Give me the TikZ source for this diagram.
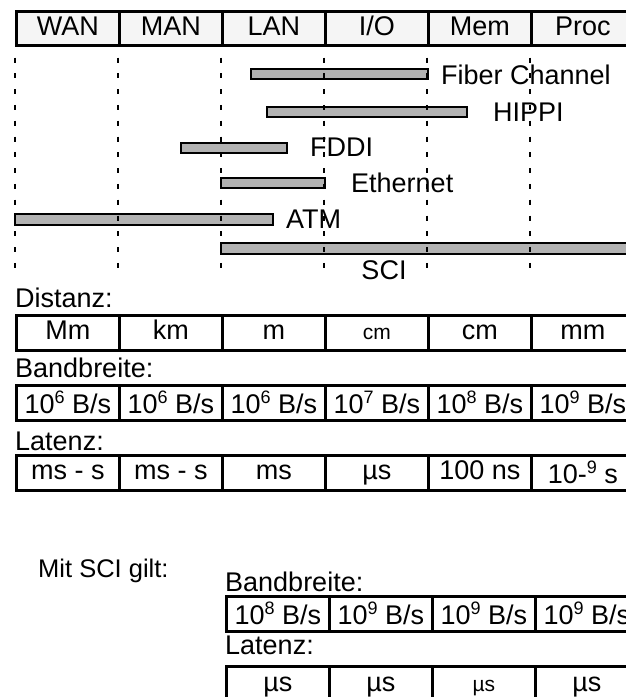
\documentclass[tikz,border=0pt]{standalone}
\usepackage{fontspec}
\setmainfont{Liberation Sans}
\newcommand{\bigsize}{\fontsize{27}{31}\selectfont}
\newcommand{\smallsize}{\fontsize{21}{24}\selectfont}
\newcommand{\tenpow}[1]{10\raisebox{10pt}{\fontsize{18}{20}\selectfont #1}}
\begin{document}
\begin{tikzpicture}[
  x=1pt, y=-1pt,
  every node/.style={font=\bigsize, inner sep=0pt},
  cell/.style={draw, line width=2.8pt, minimum width=103pt, minimum height=35pt, anchor=north west, text height=19pt, text depth=5pt},
  headcell/.style={cell, fill=black!4, minimum height=34pt},
  rate/.style={cell, text height=24pt, text depth=3pt},
  bar/.style={draw, line width=2.6pt, fill=black!30},
  grid line/.style={line width=2.4pt, dash pattern=on 5pt off 10.8pt},
  caption/.style={anchor=west}
]
  \useasboundingbox (0,0) rectangle (626,697);

  % Kopfzeile
  \foreach \t [count=\i] in {WAN,MAN,LAN,I/O,Mem,Proc}
    \node[headcell] (head\i) at (15+103*\i-103,10) {\t};

  % Netze
  \draw[bar] (251,69) rectangle (428,79);
  \node[caption] (fc) at (441,75) {Fiber Channel};
  \draw[bar] (267,107) rectangle (467,117);
  \node[caption] (hippi) at (493,112) {HIPPI};
  \draw[bar] (181,143) rectangle (287,153);
  \node[caption] (fddi) at (310,147) {FDDI};
  \draw[bar] (221,178) rectangle (325,188);
  \node[caption] (eth) at (351,183) {Ethernet};
  \draw[bar] (15,214) rectangle (273,225);
  \node[caption] (atm) at (286,219) {ATM};
  \draw[bar] (221,243) rectangle (645,254);
  \node (sci) at (384,270) {SCI};

  \foreach \x in {15,118,221,324,427,530}
    \draw[grid line] (\x,57.5) -- (\x,268);

  % Tabellen
  \node[caption] (dist) at (15,298) {Distanz:};
  \foreach \t [count=\i] in {Mm,km,m,{\smallsize cm},cm,mm}
    \node[cell] (dist\i) at (15+103*\i-103,314) {\t};

  \node[caption] (band) at (15,368) {Bandbreite:};
  \foreach \t [count=\i] in {\tenpow{6} B/s,\tenpow{6} B/s,\tenpow{6} B/s,\tenpow{7} B/s,\tenpow{8} B/s,\tenpow{9} B/s}
    \node[rate] (band\i) at (15+103*\i-103,384) {\t};

  \node[caption] (lat) at (15,441) {Latenz:};
  \foreach \t [count=\i] in {ms - s,ms - s,ms,µs,100 ns,{\raisebox{-4pt}{10-\raisebox{10pt}{\fontsize{18}{20}\selectfont 9} s}}}
    \node[cell] (lat\i) at (15+103*\i-103,454) {\t};

  % mit SCI
  \node[caption, font=\fontsize{25.5}{30}\selectfont] (mit) at (38,571) {Mit SCI gilt:};
  \node[caption] (sciband) at (225,582) {Bandbreite:};
  \foreach \t [count=\i] in {\tenpow{8} B/s,\tenpow{9} B/s,\tenpow{9} B/s,\tenpow{9} B/s}
    \node[rate] (sciband\i) at (225+103*\i-103,595) {\t};
  \node[caption] (scilat) at (225,645) {Latenz:};
  \foreach \t [count=\i] in {µs,µs,{\smallsize µs},µs}
    \node[cell, minimum height=36pt] (scilat\i) at (225+103*\i-103,665) {\t};
\end{tikzpicture}
\end{document}
